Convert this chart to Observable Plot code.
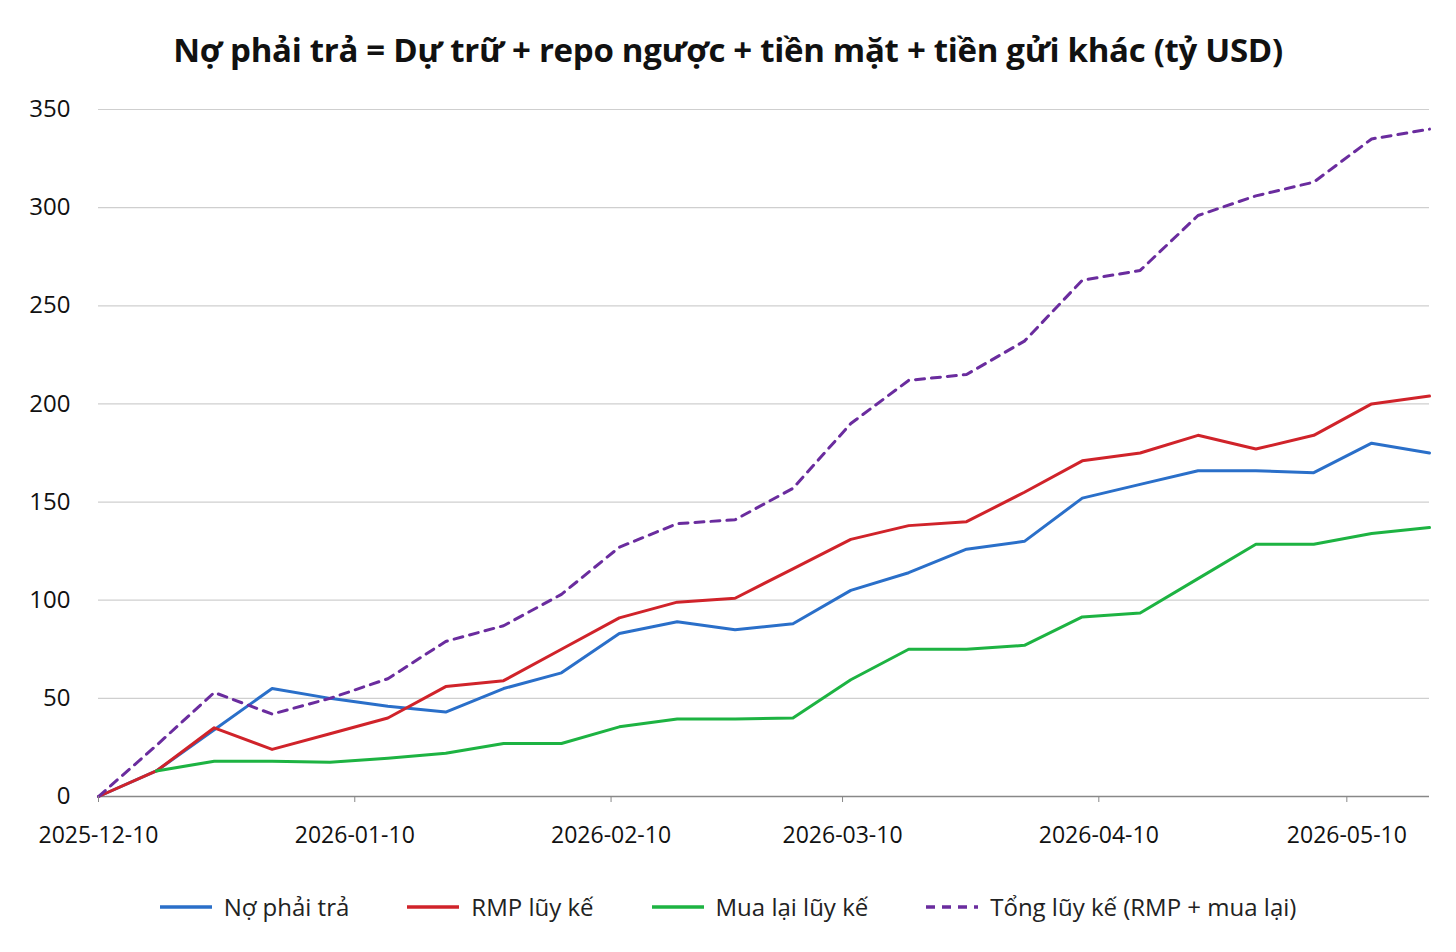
<!DOCTYPE html>
<html><head><meta charset="utf-8">
<script src="https://cdn.jsdelivr.net/npm/d3@7"></script>
<script src="https://cdn.jsdelivr.net/npm/@observablehq/plot@0.6"></script>
<style>
body{margin:0;background:#fff;font-family:"Open Sans",sans-serif;}
#title{height:90px;display:flex;align-items:center;justify-content:center;font-weight:700;font-size:33px;color:#111;padding-top:8px;box-sizing:border-box;letter-spacing:-0.3px}
#legend{display:flex;justify-content:center;gap:58px;font-size:24px;color:#222;margin-top:20px}
.item{display:flex;align-items:center;gap:12px}
</style></head><body>
<div id="title">Nợ phải trả = Dự trữ + repo ngược + tiền mặt + tiền gửi khác (tỷ USD)</div>
<div id="chart"></div>
<div id="legend"></div>
<script>
const startDate = "2025-12-10";
const weeks = 24;
const noPhaiTra = [0,13,34,55,50,46,43,55,63,83,89,85,88,105,114,126,130,152,159,166,166,165,180,175];
const rmp = [0,13,35,24,32,40,56,59,75,91,99,101,116,131,138,140,155,171,175,184,177,184,200,204];
const muaLai = [null,13,18,18,17.5,19.5,22,27,27,35.5,39.5,39.5,40,59.5,75,75,77,91.5,93.5,111,128.5,128.5,134,137];
const tong = [0,26,53,42,50,60,79,87,103,127,139,141,157,190,212,215,232,263,268,296,306,313,335,340];
const tickLabels = ["2025-12-10","2026-01-10","2026-02-10","2026-03-10","2026-04-10","2026-05-10"];
const yTicks = [0,50,100,150,200,250,300,350];

const series = [
  {name:"Nợ phải trả", values:noPhaiTra, color:"#2a6fc9", dash:null},
  {name:"RMP lũy kế", values:rmp, color:"#d0232a", dash:null},
  {name:"Mua lại lũy kế", values:muaLai, color:"#1db342", dash:null},
  {name:"Tổng lũy kế (RMP + mua lại)", values:tong, color:"#6a2c9e", dash:"9,7"}
];
const d0 = new Date(startDate+"T00:00:00Z");
const dates = d3.range(weeks).map(i => new Date(+d0 + i*7*864e5));
const parse = s => new Date(s+"T00:00:00Z");

const marks = [
  Plot.gridY(yTicks, {stroke:"#cfcfcf", strokeOpacity:1, strokeWidth:1.2}),
  Plot.ruleY([0], {stroke:"#888", strokeWidth:1.5}),
];
series.forEach(s=>{
  const data = dates.map((d,i)=>({d, v:s.values[i]})).filter(o=>o.v!=null);
  marks.push(Plot.line(data,{x:"d",y:"v",stroke:s.color,strokeWidth:3,strokeDasharray:s.dash}));
});
marks.push(Plot.axisY(yTicks,{tickSize:0,fontSize:24,fill:"#111",tickPadding:28,textAnchor:"end",label:null}));
marks.push(Plot.axisX(tickLabels.map(parse),{tickSize:6,stroke:"#888",fontSize:23,fill:"#111",tickPadding:24,tickFormat:d3.utcFormat("%Y-%m-%d"),label:null}));

const chart = Plot.plot({
  width:1456, height:780,
  marginLeft:98, marginRight:27, marginTop:19, marginBottom:74,
  x:{type:"utc", domain:[dates[0], dates[weeks-1]]},
  y:{domain:[0,350]},
  style:{fontFamily:"Open Sans, sans-serif", background:"#fff", overflow:"visible"},
  marks
});
document.getElementById("chart").appendChild(chart);

const leg = document.getElementById("legend");
series.forEach(s=>{
  const it = document.createElement("div"); it.className="item";
  it.innerHTML = `<svg width="52" height="10"><line x1="0" y1="5" x2="52" y2="5" stroke="${s.color}" stroke-width="3.5" ${s.dash?`stroke-dasharray="9,7"`:""}/></svg><span>${s.name}</span>`;
  leg.appendChild(it);
});
</script>
</body></html>
